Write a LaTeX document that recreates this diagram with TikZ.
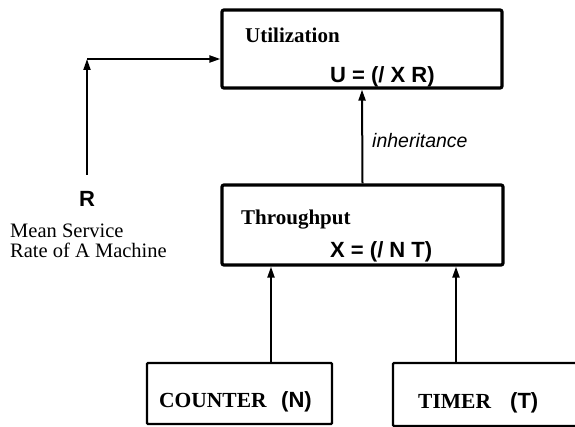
\documentclass[tikz,border=0pt]{standalone}
\usepackage{fontspec}
\setmainfont{Liberation Serif}
\setsansfont{Liberation Sans}
\usetikzlibrary{arrows.meta}
\begin{document}
\begin{tikzpicture}[x=1pt,y=-1pt,
  bigbox/.style={draw, line width=3.2pt, rounded corners=2pt, inner sep=0pt},
  smallbox/.style={draw, line width=2.2pt, rounded corners=1pt, inner sep=0pt},
  arr/.style={line width=2pt, -{Triangle[length=11pt,width=7pt]}},
  txt/.style={anchor=base west, inner sep=0pt, font=\fontsize{20.5}{24}\selectfont},
  btxt/.style={txt, font=\fontsize{21}{24}\selectfont\bfseries},
  ctxt/.style={txt, font=\fontsize{21.5}{24}\selectfont\bfseries},
  stxt/.style={txt, font=\fontsize{22}{24}\selectfont\sffamily\bfseries},
  itxt/.style={txt, font=\fontsize{19.5}{24}\selectfont\sffamily\itshape}]
\useasboundingbox (0,0) rectangle (575,427);
\clip (0,0) rectangle (575,427);

% boxes
\node[bigbox, minimum width=280pt, minimum height=78pt] (util) at (362,49) {};
\node[bigbox, minimum width=281pt, minimum height=80pt] (thru) at (362.5,225) {};
\node[smallbox, minimum width=185pt, minimum height=61pt] (counter) at (239.5,393.5) {};
\node[smallbox, minimum width=230pt, minimum height=63pt] (timer) at (508,394.5) {};

% texts
\node[btxt] (utilT) at (245,43) {Utilization};
\node[stxt] (utilF) at (330,83) {U = (/ X R)};
\node[btxt] (thruT) at (241,225) {Throughput};
\node[stxt] (thruF) at (330,258) {X = (/ N T)};
\node[ctxt] (cntT) at (159,407) {COUNTER};
\node[stxt] (cntN) at (281,407) {(N)};
\node[ctxt] (timT) at (418,408) {TIMER};
\node[stxt] (timN) at (510,408) {(T)};
\node[itxt] (inh) at (372,148) {inheritance};
\node[stxt, anchor=base] (R) at (87,207) {R};
\node[txt] (mean1) at (10,238) {Mean Service};
\node[txt] (mean2) at (10,258) {Rate of A Machine};

% connectors
\coordinate (corner) at (87,59);
\coordinate (rtail) at (87,175);
\coordinate (cx) at (271,0);
\coordinate (tx) at (456,0);
\draw[arr] (rtail) -- (corner);
\draw[arr] (corner) -- (corner -| util.west);
\draw[arr] (thru.north) -- (util.south);
\draw[arr] (counter.north -| cx) -- (thru.south -| cx);
\draw[arr] (timer.north -| tx) -- (thru.south -| tx);
\end{tikzpicture}
\end{document}
